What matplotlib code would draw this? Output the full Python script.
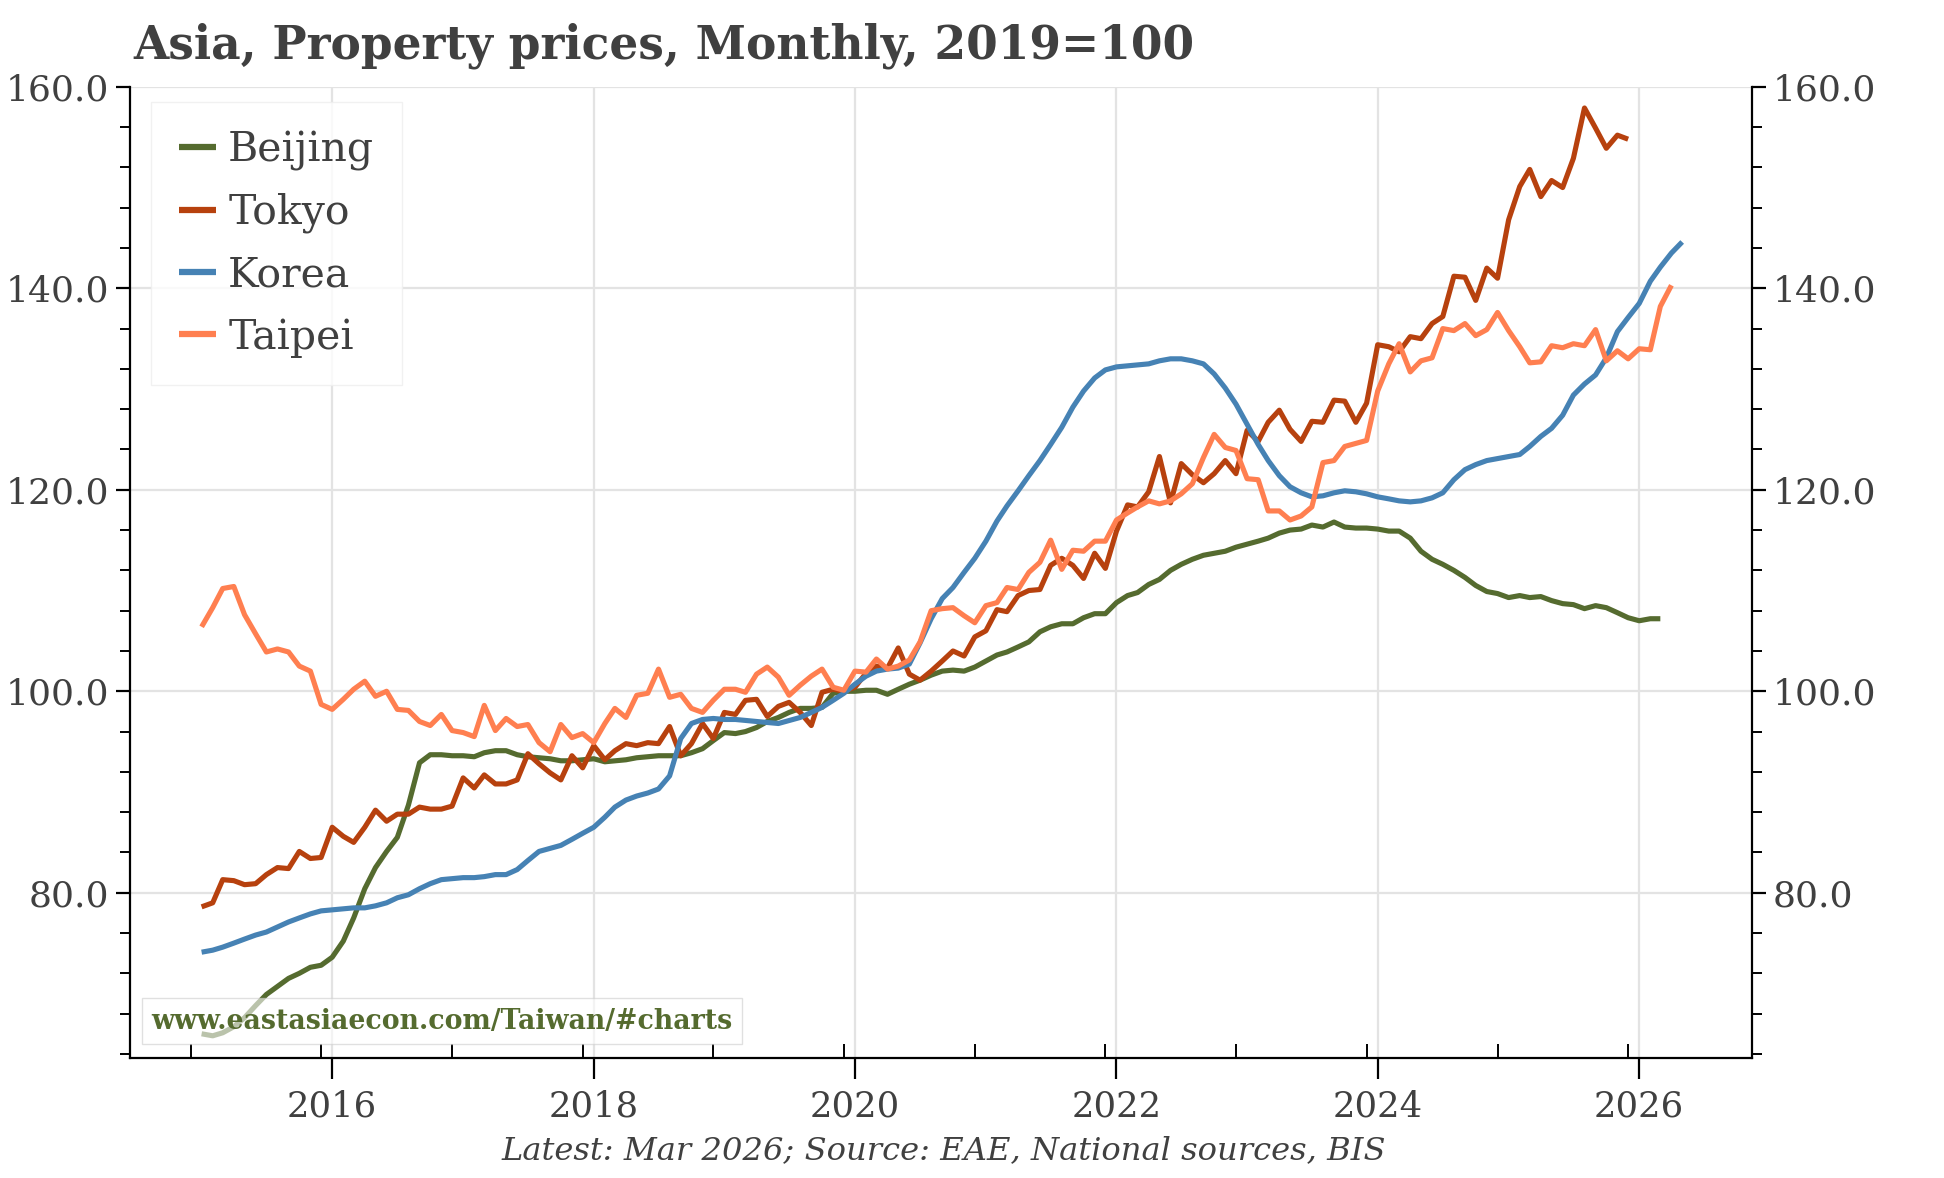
import pandas as pd
import matplotlib
matplotlib.use('Agg')
import matplotlib.pyplot as plt
import matplotlib.dates as mdates
from matplotlib.ticker import MultipleLocator, FormatStrFormatter

# monthly index values, 2019=100, first month Jan 2015
start = '2015-01-01'

beijing = [
    66.0, 65.8, 66.1, 66.7, 67.6, 68.8, 69.9, 70.7, 71.5, 72.0, 72.6, 72.8,
    73.6, 75.2, 77.5, 80.4, 82.5, 84.1, 85.5, 88.7, 92.9, 93.7, 93.7, 93.6,
    93.6, 93.5, 93.9, 94.1, 94.1, 93.7, 93.5, 93.4, 93.3, 93.1, 93.1, 93.2,
    93.3, 93.0, 93.1, 93.2, 93.4, 93.5, 93.6, 93.6, 93.6, 93.9, 94.3, 95.1,
    95.9, 95.8, 96.0, 96.4, 97.0, 97.4, 97.9, 98.3, 98.3, 98.4, 99.8, 100.0,
    100.0, 100.1, 100.1, 99.7, 100.2, 100.7, 101.1, 101.6, 102.0, 102.1, 102.0, 102.4,
    103.0, 103.6, 103.9, 104.4, 104.9, 105.9, 106.4, 106.7, 106.7, 107.3, 107.7, 107.7,
    108.8, 109.5, 109.8, 110.6, 111.1, 112.0, 112.6, 113.1, 113.5, 113.7, 113.9, 114.3,
    114.6, 114.9, 115.2, 115.7, 116.0, 116.1, 116.5, 116.3, 116.8, 116.3, 116.2, 116.2,
    116.1, 115.9, 115.9, 115.2, 113.9, 113.1, 112.6, 112.0, 111.3, 110.5, 109.9, 109.7,
    109.3, 109.5, 109.3, 109.4, 109.0, 108.7, 108.6, 108.2, 108.5, 108.3, 107.8, 107.3,
    107.0, 107.2, 107.2,
]

tokyo = [
    78.6, 79.0, 81.3, 81.2, 80.8, 80.9, 81.8, 82.5, 82.4, 84.1, 83.4, 83.5,
    86.5, 85.6, 85.0, 86.5, 88.2, 87.1, 87.8, 87.8, 88.5, 88.3, 88.3, 88.6,
    91.4, 90.4, 91.7, 90.8, 90.8, 91.2, 93.8, 92.8, 91.9, 91.2, 93.6, 92.4,
    94.6, 93.2, 94.1, 94.8, 94.6, 94.9, 94.8, 96.5, 93.6, 94.8, 96.8, 95.3,
    97.9, 97.7, 99.1, 99.2, 97.5, 98.5, 98.9, 97.9, 96.6, 99.9, 100.2, 100.0,
    100.4, 101.8, 102.5, 102.3, 104.3, 101.7, 101.1, 102.0, 103.0, 104.0, 103.5, 105.4,
    106.0, 108.1, 107.9, 109.5, 110.0, 110.1, 112.5, 113.2, 112.5, 111.2, 113.7, 112.2,
    115.9, 118.5, 118.3, 119.8, 123.3, 118.7, 122.6, 121.5, 120.7, 121.6, 122.9, 121.6,
    125.9, 124.8, 126.7, 127.9, 126.0, 124.8, 126.8, 126.7, 128.9, 128.8, 126.7, 128.6,
    134.4, 134.2, 133.7, 135.2, 135.0, 136.5, 137.2, 141.2, 141.1, 138.8, 142.0, 141.0,
    146.8, 150.1, 151.8, 149.1, 150.7, 150.0, 152.9, 157.9, 155.9, 153.9, 155.2, 154.8,
]

korea = [
    74.1, 74.3, 74.6, 75.0, 75.4, 75.8, 76.1, 76.6, 77.1, 77.5, 77.9, 78.2,
    78.3, 78.4, 78.5, 78.5, 78.7, 79.0, 79.5, 79.8, 80.4, 80.9, 81.3, 81.4,
    81.5, 81.5, 81.6, 81.8, 81.8, 82.3, 83.2, 84.1, 84.4, 84.7, 85.3, 85.9,
    86.5, 87.5, 88.5, 89.2, 89.6, 89.9, 90.3, 91.6, 95.3, 96.8, 97.2, 97.3,
    97.2, 97.2, 97.1, 97.0, 96.9, 96.8, 97.1, 97.4, 97.9, 98.4, 99.1, 99.8,
    100.7, 101.5, 102.0, 102.2, 102.3, 102.7, 104.8, 107.2, 109.2, 110.3, 111.8, 113.2,
    114.9, 116.9, 118.4, 119.9, 121.4, 122.9, 124.5, 126.2, 128.2, 129.8, 131.1, 131.9,
    132.2, 132.3, 132.4, 132.5, 132.8, 133.0, 133.0, 132.8, 132.5, 131.5, 130.1, 128.5,
    126.5, 124.5, 122.9, 121.4, 120.3, 119.7, 119.3, 119.4, 119.7, 119.9, 119.8, 119.6,
    119.3, 119.1, 118.9, 118.8, 118.9, 119.2, 119.7, 121.0, 122.0, 122.5, 122.9, 123.1,
    123.3, 123.5, 124.3, 125.3, 126.1, 127.4, 129.4, 130.5, 131.4, 133.1, 135.7, 137.1,
    138.5, 140.7, 142.1, 143.5, 144.6,
]

taipei = [
    106.4, 108.3, 110.2, 110.4, 107.6, 105.7, 103.9, 104.2, 103.9, 102.5, 102.0, 98.7,
    98.2, 99.2, 100.2, 101.0, 99.5, 100.0, 98.2, 98.1, 97.0, 96.6, 97.7, 96.1,
    95.9, 95.5, 98.6, 96.1, 97.3, 96.5, 96.7, 94.9, 94.0, 96.7, 95.4, 95.8,
    94.9, 96.8, 98.3, 97.4, 99.6, 99.8, 102.2, 99.4, 99.7, 98.3, 97.9, 99.1,
    100.2, 100.2, 99.9, 101.7, 102.4, 101.4, 99.6, 100.6, 101.5, 102.2, 100.4, 100.1,
    102.0, 101.9, 103.2, 102.2, 102.5, 103.1, 104.9, 108.0, 108.2, 108.3, 107.5, 106.8,
    108.5, 108.8, 110.3, 110.1, 111.8, 112.8, 115.0, 112.1, 114.0, 113.9, 114.9, 114.9,
    117.0, 117.7, 118.3, 118.9, 118.6, 118.9, 119.6, 120.6, 123.2, 125.5, 124.2, 123.9,
    121.1, 121.0, 117.9, 117.9, 117.0, 117.4, 118.3, 122.7, 122.9, 124.3, 124.6, 124.9,
    129.8, 132.5, 134.5, 131.7, 132.8, 133.1, 136.0, 135.8, 136.5, 135.3, 135.9, 137.6,
    135.8, 134.2, 132.6, 132.7, 134.3, 134.1, 134.5, 134.3, 135.9, 132.8, 133.8, 133.0,
    134.0, 133.9, 138.2, 140.3,
]

series = [
    ('Beijing', beijing, '#556B2F'),
    ('Tokyo', tokyo, '#B7410E'),
    ('Korea', korea, '#4682B4'),
    ('Taipei', taipei, '#FF7F50'),
]

text_col = '#404040'
serif = 'DejaVu Serif'

fig = plt.figure(figsize=(19.44, 11.78), dpi=100)
ax = fig.add_axes([0.0669, 0.1019, 0.8343, 0.8244])

for name, vals, col in series:
    dates = pd.date_range(start, periods=len(vals), freq='MS')
    ax.plot(dates, vals, color=col, lw=3.7, label=name, solid_capstyle='butt')

ax.set_ylim(63.6, 160)
ax.set_xlim(pd.Timestamp('2014-06-15'), pd.Timestamp('2026-11-12'))

ax.yaxis.set_major_locator(MultipleLocator(20))
ax.yaxis.set_minor_locator(MultipleLocator(4))
ax.yaxis.set_major_formatter(FormatStrFormatter('%.1f'))
ax.xaxis.set_major_locator(mdates.YearLocator(2))
ax.xaxis.set_minor_locator(mdates.MonthLocator(bymonth=12))
ax.xaxis.set_major_formatter(mdates.DateFormatter('%Y'))

ax.grid(True, which='major', color='#e3e3e3', lw=1.6)
ax.set_axisbelow(True)

ax.spines['top'].set_visible(False)
for s in ['left', 'right', 'bottom']:
    ax.spines[s].set_linewidth(1.6)

ax.tick_params(axis='y', which='major', direction='out', length=10, width=1.6,
               left=True, right=True, labelleft=True, labelright=True,
               labelsize=26, labelcolor=text_col, pad=5)
ax.tick_params(axis='y', which='minor', direction='out', length=7, width=1.4,
               left=True, right=True)
ax.tick_params(axis='x', which='major', direction='out', length=15, width=1.6,
               labelsize=25.5, labelcolor=text_col, pad=8)
ax.tick_params(axis='x', which='minor', direction='in', length=10, width=1.4)
for lab in ax.get_xticklabels() + ax.get_yticklabels():
    lab.set_family(serif)

leg = ax.legend(loc='upper left', bbox_to_anchor=(0.013, 0.984), borderaxespad=0,
                prop={'family': serif, 'size': 29.5},
                frameon=True, fancybox=False, edgecolor='#eeeeee',
                handlelength=0.9, handletextpad=0.3, labelspacing=0.54,
                borderpad=0.68)
for t in leg.get_texts():
    t.set_color(text_col)
for h in leg.get_lines():
    h.set_linewidth(4.5)

ax.text(0.013, 0.038, 'www.eastasiaecon.com/Taiwan/#charts', transform=ax.transAxes,
        fontsize=19.3, fontweight='bold', family=serif, color='#556B2F',
        ha='left', va='center',
        bbox=dict(facecolor='white', alpha=0.6, edgecolor='#cccccc',
                  boxstyle='square,pad=0.35'))

fig.text(0.0684, 0.961, 'Asia, Property prices, Monthly, 2019=100',
         fontsize=32.8, fontweight='bold', family=serif, color=text_col,
         ha='left', va='center')
fig.text(0.4856, 0.023, 'Latest: Mar 2026; Source: EAE, National sources, BIS',
         fontsize=23.1, style='italic', family=serif, color=text_col,
         ha='center', va='center')

fig.savefig('out.png', dpi=100)
